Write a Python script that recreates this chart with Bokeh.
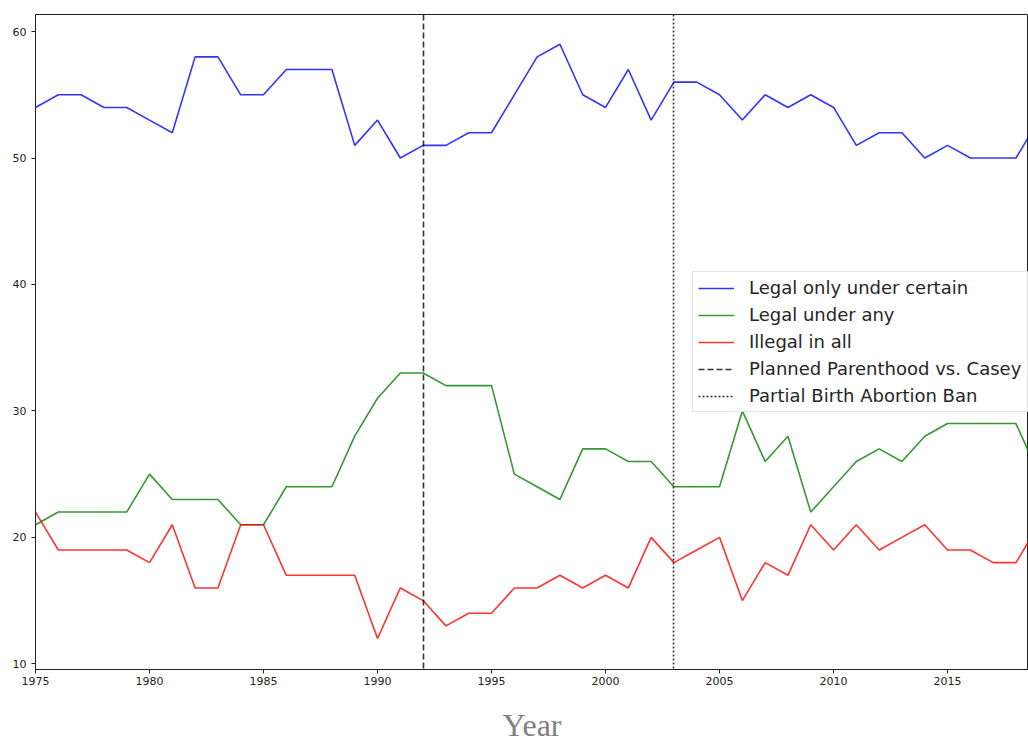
from bokeh.plotting import figure
from bokeh.models import Legend, LegendItem, FixedTicker, Range1d
from bokeh.core.properties import value
from bokeh.embed import file_html
from bokeh.resources import INLINE

years = list(range(1975, 2020))
legal_certain = [54, 55, 55, 54, 54, 53, 52, 58, 58, 55, 55, 57, 57, 57, 51, 53, 50, 51, 51, 52, 52,
                 55, 58, 59, 55, 54, 57, 53, 56, 56, 55, 53, 55, 54, 55, 54, 51, 52, 52, 50, 51, 50,
                 50, 50, 53]
legal_any = [21, 22, 22, 22, 22, 25, 23, 23, 23, 21, 21, 24, 24, 24, 28, 31, 33, 33, 32, 32, 32,
             25, 24, 23, 27, 27, 26, 26, 24, 24, 24, 30, 26, 28, 22, 24, 26, 27, 26, 28, 29, 29,
             29, 29, 25]
illegal_all = [22, 19, 19, 19, 19, 18, 21, 16, 16, 21, 21, 17, 17, 17, 17, 12, 16, 15, 13, 14, 14,
               16, 16, 17, 16, 17, 16, 20, 18, 19, 20, 15, 18, 17, 21, 19, 21, 19, 20, 21, 19, 19,
               18, 18, 21]
casey_year = [1992]
pba_ban_year = [2003]
x_ticks = [1975, 1980, 1985, 1990, 1995, 2000, 2005, 2010, 2015]
y_ticks = [10, 20, 30, 40, 50, 60]

p = figure(width=1028, height=745, output_backend="svg", toolbar_location=None,
           x_range=Range1d(1975, 2018.55), y_range=Range1d(9.55, 61.35),
           min_border_left=35, min_border_right=0, min_border_top=14, min_border_bottom=0)
p.grid.visible = False
p.outline_line_color = "#222222"
p.outline_line_width = 1

for ax in (p.xaxis[0], p.yaxis[0]):
    ax.axis_line_color = "#222222"
    ax.major_tick_line_color = "#222222"
    ax.minor_tick_line_color = None
    ax.major_tick_out = 4
    ax.major_tick_in = 0
    ax.major_label_text_font = "DejaVu Sans"
    ax.major_label_text_font_size = "11px"
    ax.major_label_text_color = "#222222"

p.xaxis.major_label_standoff = 3
p.yaxis.major_label_standoff = 5
p.xaxis.ticker = FixedTicker(ticks=x_ticks)
p.yaxis.ticker = FixedTicker(ticks=y_ticks)
p.xaxis.axis_label = "Year"
p.xaxis.axis_label_text_font = "Liberation Serif"
p.xaxis.axis_label_text_font_style = "normal"
p.xaxis.axis_label_text_font_size = "32px"
p.xaxis.axis_label_text_color = "#808080"
p.xaxis.axis_label_standoff = 19

r1 = p.line(years, legal_certain, line_color="blue", line_alpha=0.8, line_width=1.6)
r2 = p.line(years, legal_any, line_color="green", line_alpha=0.8, line_width=1.6)
r3 = p.line(years, illegal_all, line_color="red", line_alpha=0.8, line_width=1.6)
r4 = p.vspan(x=casey_year, line_color="black", line_alpha=0.8, line_width=1.6,
             line_dash=value("6 3"))
r5 = p.vspan(x=pba_ban_year, line_color="black", line_alpha=0.8, line_width=1.6,
             line_dash=value("2 2"))

legend = Legend(items=[
    LegendItem(label="Legal only under certain", renderers=[r1]),
    LegendItem(label="Legal under any", renderers=[r2]),
    LegendItem(label="Illegal in all", renderers=[r3]),
    LegendItem(label="Planned Parenthood vs. Casey", renderers=[r4]),
    LegendItem(label="Partial Birth Abortion Ban", renderers=[r5]),
], location=(657, 257))
legend.label_text_font = "DejaVu Sans"
legend.label_text_font_size = "18px"
legend.label_text_color = "#262626"
legend.glyph_width = 36
legend.glyph_height = 20
legend.label_height = 20
legend.label_width = 285
legend.label_standoff = 15
legend.spacing = 6
legend.padding = 5
legend.margin = 0
legend.border_line_color = "#cccccc"
legend.background_fill_alpha = 0.85
p.add_layout(legend)

open("out.html", "w").write(file_html(p, INLINE))
